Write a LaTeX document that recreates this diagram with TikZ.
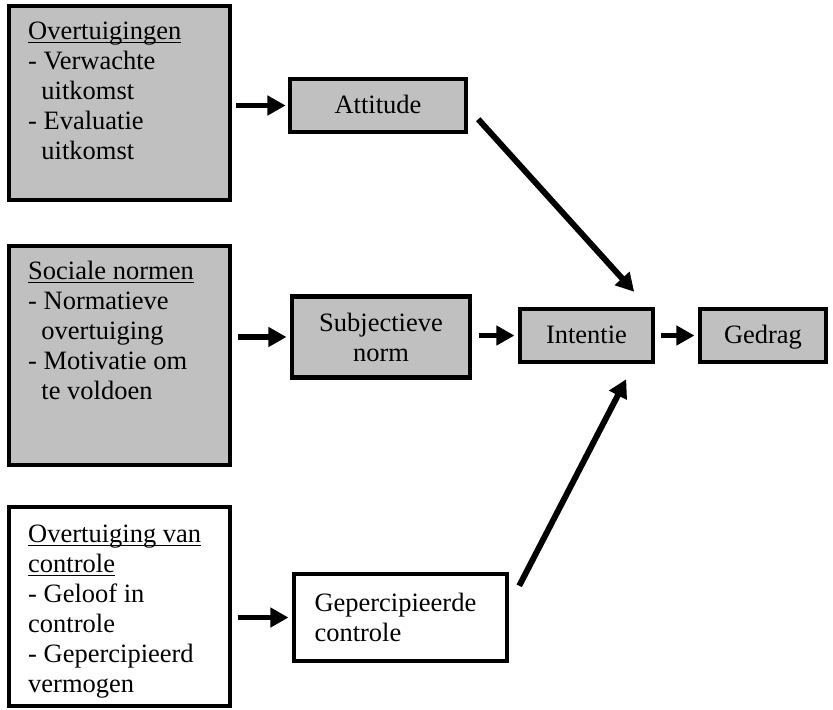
\documentclass[tikz,border=0pt]{standalone}
\usepackage{fontspec}
\setmainfont{Liberation Serif}
\usetikzlibrary{arrows.meta,calc}
\definecolor{vlak}{HTML}{C0C0C0}
\newcommand{\px}{0.453pt}
\newcommand{\kop}[1]{\underline{\smash{#1}}}
\newcommand{\insp}{\hspace*{6pt}}

\begin{document}
\begin{tikzpicture}[x=\px, y=-\px,
    every node/.style={font=\fontsize{12}{13.6}\selectfont},
    blok/.style={draw, line width=2pt, inner sep=0pt},
    grijs/.style={blok, fill=vlak},
    enkel/.style={text height=8.5pt, text depth=1.7pt},
    pijl/.style={line width=2.7pt, -{Triangle[length=8.2pt,width=8.6pt]}}]
    \useasboundingbox (0,0) rectangle (833,709);

    % linker kolom
    \node [grijs, minimum width=221*\px, minimum height=194*\px] (ovt) at (119.5,103) {};
    \node [grijs, minimum width=221*\px, minimum height=219*\px] (soc) at (119.5,355.5) {};
    \node [blok, minimum width=221*\px, minimum height=199*\px] (ctl) at (119.5,606.5) {};
    \node [anchor=north west, align=left, inner sep=0pt] (ovt-t) at ($(ovt.north west)+(21,35)$)
        {\kop{Overtuigingen}\\- Verwachte\\\insp uitkomst\\- Evaluatie\\\insp uitkomst};
    \node [anchor=north west, align=left, inner sep=0pt] (soc-t) at ($(soc.north west)+(21,35)$)
        {\kop{Sociale normen}\\- Normatieve\\\insp overtuiging\\- Motivatie om\\\insp te voldoen};
    \node [anchor=north west, align=left, inner sep=0pt] (ctl-t) at ($(ctl.north west)+(21,37)$)
        {\kop{Overtuiging van}\\\kop{controle}\\- Geloof in\\controle\\- Gepercipieerd\\vermogen};

    % midden en rechts
    \node [grijs, enkel, minimum width=176*\px, minimum height=53*\px] (att) at (378,105.5) {Attitude};
    \node [grijs, minimum width=178*\px, minimum height=81*\px, align=center] (sub) at (381,337) {Subjectieve\\norm};
    \node [blok, minimum width=213*\px, minimum height=87*\px, text width=172*\px, align=left] (gep) at (400.5,617.5) {Gepercipieerde\\controle};
    \node [grijs, enkel, minimum width=133*\px, minimum height=53*\px] (int) at (586.5,335.5) {Intentie};
    \node [grijs, enkel, minimum width=126*\px, minimum height=53*\px] (ged) at (763,335.5) {Gedrag};

    % pijlen
    \draw [pijl, shorten <=1.8pt, shorten >=1pt] (ovt.east |- att.west) -- (att.west);
    \draw [pijl, shorten <=2.5pt, shorten >=1.5pt] (soc.east |- sub.west) -- (sub.west);
    \draw [pijl, shorten <=2.5pt, shorten >=1.5pt] (ctl.east |- gep.west) -- (gep.west);
    \draw [pijl, shorten <=3pt, shorten >=1.5pt] (sub.east |- int.west) -- (int.west);
    \draw [pijl, shorten <=2.5pt, shorten >=1.5pt] (int) -- (ged);
    \coordinate (a1) at ($(att.south east)+(10,-15)$);
    \coordinate (a2) at ($(int.north east)+(-21,-15)$);
    \coordinate (g1) at ($(gep.north east)+(10,14)$);
    \coordinate (g2) at ($(int.south east)+(-29,15)$);
    \draw [pijl] (a1) -- (a2);
    \draw [pijl] (g1) -- (g2);
\end{tikzpicture}
\end{document}
